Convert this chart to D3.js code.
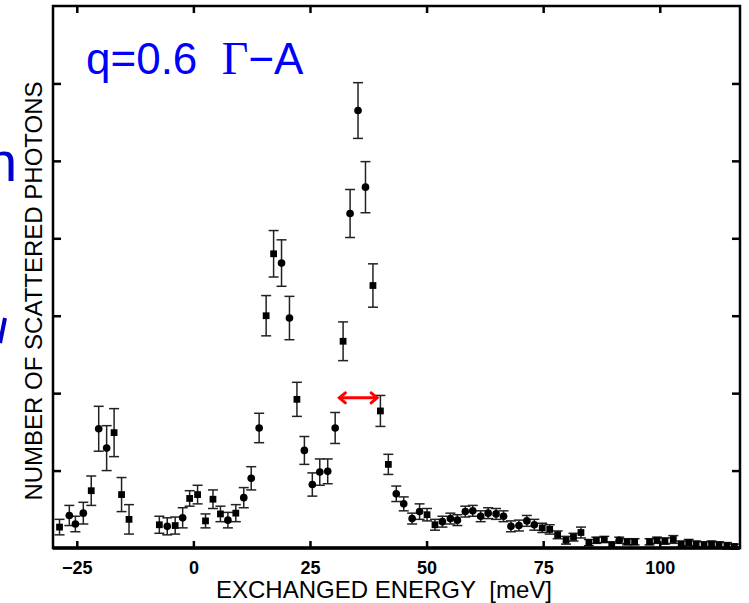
<!DOCTYPE html>
<html>
<head>
  <meta charset="utf-8">
  <script src="https://cdnjs.cloudflare.com/ajax/libs/d3/7.8.5/d3.min.js"></script>
  <style>
    body { margin: 0; background: #fff; }
    svg { display: block; font-family: "Liberation Sans", Arial, sans-serif; }
  </style>
</head>
<body>
<svg width="749" height="603"></svg>
<script>
// energy transfer (meV) and counts (arbitrary units, 1 per tick)
var energy = [-28.7, -26.6, -25.3, -23.6, -21.9, -20.3, -18.6, -17.0, -15.4, -13.8,
              -7.3, -5.6, -3.9, -2.3, -0.8, 0.9, 2.6, 4.2, 5.8, 7.4,
              9.1, 10.8, 12.4, 14.1, 15.6, 17.2, 18.9, 20.6, 22.2, 23.8,
              25.5, 27.1, 28.8, 30.4, 32.1, 33.6, 35.3, 36.9, 38.5, 40.1,
              41.8, 43.5, 45.1, 46.9, 48.5, 50.1, 51.8, 53.4, 55.1, 56.6,
              58.3, 59.9, 61.6, 63.2, 64.9, 66.5, 68.1, 69.8, 71.5, 73.1,
              74.8, 76.4, 78.1, 79.9, 81.5, 83.1, 84.8, 86.4, 88.1, 89.7,
              91.3, 93.0, 94.6, 97.8, 99.4, 101.1, 102.9, 104.6, 106.2, 107.8,
              109.5, 111.1, 112.7, 114.4, 116.0];
var counts = [0.27, 0.42, 0.31, 0.45, 0.74, 1.54, 1.29, 1.49, 0.69, 0.37,
              0.30, 0.28, 0.29, 0.39, 0.64, 0.69, 0.35, 0.63, 0.44, 0.36,
              0.45, 0.65, 0.90, 1.55, 3.00, 3.80, 3.68, 2.97, 1.92, 1.26,
              0.82, 0.98, 0.99, 1.55, 2.67, 4.32, 5.65, 4.66, 3.39, 1.77,
              1.08, 0.70, 0.57, 0.38, 0.47, 0.43, 0.30, 0.34, 0.38, 0.36,
              0.47, 0.48, 0.41, 0.45, 0.44, 0.41, 0.28, 0.29, 0.35, 0.30,
              0.26, 0.24, 0.17, 0.10, 0.14, 0.20, 0.07, 0.10, 0.11, 0.04,
              0.10, 0.08, 0.08, 0.08, 0.10, 0.09, 0.11, 0.05, 0.07, 0.05,
              0.04, 0.05, 0.04, 0.03, 0.02];
var errors = [0.10, 0.13, 0.10, 0.14, 0.19, 0.29, 0.29, 0.31, 0.22, 0.19,
              0.11, 0.11, 0.11, 0.13, 0.10, 0.12, 0.09, 0.12, 0.10, 0.10,
              0.11, 0.13, 0.15, 0.19, 0.26, 0.30, 0.30, 0.28, 0.22, 0.18,
              0.15, 0.17, 0.16, 0.20, 0.25, 0.31, 0.36, 0.33, 0.28, 0.20,
              0.13, 0.10, 0.09, 0.07, 0.10, 0.08, 0.07, 0.07, 0.07, 0.07,
              0.07, 0.07, 0.07, 0.07, 0.07, 0.07, 0.07, 0.07, 0.07, 0.07,
              0.06, 0.06, 0.05, 0.05, 0.05, 0.07, 0.04, 0.04, 0.04, 0.04,
              0.04, 0.04, 0.04, 0.04, 0.04, 0.04, 0.05, 0.04, 0.04, 0.04,
              0.04, 0.04, 0.04, 0.04, 0.03];
var shapes = "scccsccsssscscsssssc" +
             "scccssccscccccscccss" +
             "sccccsscccccccccccccs" +
             "ssssssssscsssssssssss" + "ssss";

var xTicks = [-25, 0, 25, 50, 75, 100];
var yTicks = [1, 2, 3, 4, 5, 6];

// FWHM arrow
var arrowE = [31.3, 39.4];
var arrowY = 1.94;

var svg = d3.select("svg");
var margin = {left: 53, top: 6, right: 9, bottom: 55};
var W = 749 - margin.left - margin.right,
    H = 603 - margin.top - margin.bottom;

var x = d3.scaleLinear().domain([-30.1, 117.2]).range([0, W]);
var y = d3.scaleLinear().domain([0, 7]).range([H, 0]);

var g = svg.append("g")
  .attr("transform", "translate(" + margin.left + "," + margin.top + ")");

// error bars
var eb = g.selectAll(".eb")
  .data(energy)
  .enter().append("g")
    .attr("class", "eb")
    .attr("stroke", "#222")
    .attr("stroke-width", 1.5);
eb.append("line")
  .attr("x1", (d, i) => x(d)).attr("x2", (d, i) => x(d))
  .attr("y1", (d, i) => y(counts[i] + errors[i]))
  .attr("y2", (d, i) => y(counts[i] - errors[i]));
eb.append("line")
  .attr("x1", (d, i) => x(d) - 5).attr("x2", (d, i) => x(d) + 5)
  .attr("y1", (d, i) => y(counts[i] + errors[i]))
  .attr("y2", (d, i) => y(counts[i] + errors[i]));
eb.append("line")
  .attr("x1", (d, i) => x(d) - 5).attr("x2", (d, i) => x(d) + 5)
  .attr("y1", (d, i) => y(counts[i] - errors[i]))
  .attr("y2", (d, i) => y(counts[i] - errors[i]));

// markers
var sym = d3.symbol().size(46);
g.selectAll(".pt")
  .data(energy)
  .enter().append("path")
    .attr("class", "pt")
    .attr("transform", (d, i) => "translate(" + x(d) + "," + y(counts[i]) + ")")
    .attr("d", (d, i) => sym.type(shapes[i] == "s" ? d3.symbolSquare : d3.symbolCircle)())
    .attr("fill", "#000");

// red double arrow
var ax1 = x(arrowE[0]), ax2 = x(arrowE[1]), ay = y(arrowY);
var red = g.append("g")
  .attr("stroke", "#ff0000")
  .attr("stroke-width", 3)
  .attr("fill", "none")
  .attr("stroke-linecap", "round");
red.append("line").attr("x1", ax1 + 1).attr("x2", ax2 - 1).attr("y1", ay).attr("y2", ay);
red.append("path").attr("d", "M" + (ax1 + 6) + "," + (ay - 5) + "L" + ax1 + "," + ay + "L" + (ax1 + 6) + "," + (ay + 5));
red.append("path").attr("d", "M" + (ax2 - 6) + "," + (ay - 5) + "L" + ax2 + "," + ay + "L" + (ax2 - 6) + "," + (ay + 5));

// axes box with inward ticks
g.append("g")
  .attr("transform", "translate(0," + H + ")")
  .call(d3.axisBottom(x).tickValues(xTicks).tickSizeInner(-7).tickSizeOuter(0)
        .tickPadding(13).tickFormat(d => d < 0 ? "\u2212" + (-d) : d))
  .call(a => a.select(".domain").remove())
  .call(a => a.selectAll("line").attr("stroke-width", 2.5))
  .call(a => a.selectAll("text")
    .attr("font-size", 18).attr("font-weight", "bold")
    .attr("font-family", "'Liberation Sans', Arial, sans-serif").attr("fill", "#000"));
g.append("g")
  .call(d3.axisTop(x).tickValues(xTicks).tickSizeInner(-7).tickSizeOuter(0).tickFormat(""))
  .call(a => a.select(".domain").remove())
  .call(a => a.selectAll("line").attr("stroke-width", 2.5));
g.append("g")
  .call(d3.axisLeft(y).tickValues(yTicks).tickSizeInner(-8).tickSizeOuter(0).tickFormat(""))
  .call(a => a.select(".domain").remove())
  .call(a => a.selectAll("line").attr("stroke-width", 2.5));
g.append("g")
  .attr("transform", "translate(" + W + ",0)")
  .call(d3.axisRight(y).tickValues(yTicks).tickSizeInner(-8).tickSizeOuter(0).tickFormat(""))
  .call(a => a.select(".domain").remove())
  .call(a => a.selectAll("line").attr("stroke-width", 2.5));

g.append("rect")
  .attr("width", W).attr("height", H)
  .attr("fill", "none").attr("stroke", "#000").attr("stroke-width", 2.5);
g.append("line")
  .attr("x1", 0).attr("x2", W).attr("y1", H).attr("y2", H)
  .attr("stroke", "#000").attr("stroke-width", 3.5);

// axis labels
svg.append("text")
  .attr("x", 384).attr("y", 598)
  .attr("text-anchor", "middle")
  .attr("font-size", 24)
  .text("EXCHANGED ENERGY\u00a0\u00a0[meV]");
svg.append("text")
  .attr("transform", "translate(42,291) rotate(-90)")
  .attr("text-anchor", "middle")
  .attr("font-size", 24)
  .text("NUMBER OF SCATTERED PHOTONS");

// blue label
var lab = svg.append("text")
  .attr("x", 86).attr("y", 74)
  .attr("font-size", 44)
  .attr("fill", "#0000ff");
lab.append("tspan").text("q=0.6\u00a0\u00a0");
lab.append("tspan").attr("font-family", "'Liberation Serif', serif").attr("font-size", 46).text("\u0393");
lab.append("tspan").text("\u2212A");

// blue fragments cut at the left edge
svg.append("text")
  .attr("x", -14).attr("y", 181)
  .attr("font-size", 56)
  .attr("fill", "#0000cc")
  .text("n");
svg.append("line")
  .attr("x1", 5).attr("y1", 318).attr("x2", 0).attr("y2", 343)
  .attr("stroke", "#0000cc").attr("stroke-width", 4);
</script>
</body>
</html>
